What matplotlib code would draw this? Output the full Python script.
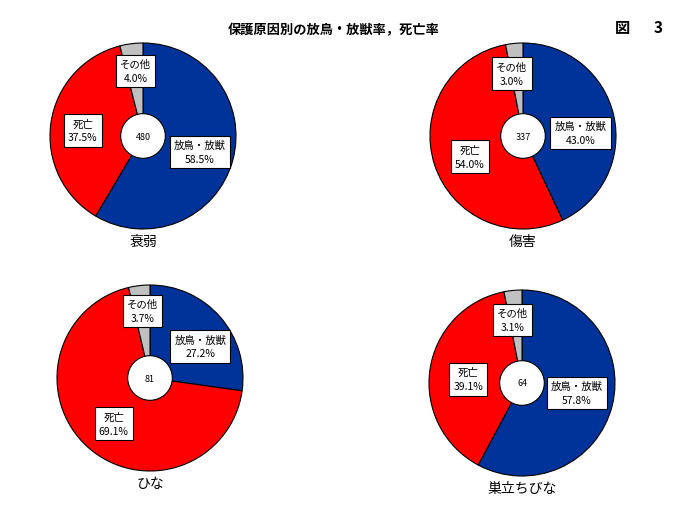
import matplotlib
matplotlib.use("Agg")
import matplotlib.pyplot as plt
from matplotlib.patches import Circle

plt.rcParams['font.family'] = ['Noto Sans CJK JP', 'DejaVu Sans']

# data
causes = ['衰弱', '傷害', 'ひな', '巣立ちびな']
totals = [480, 337, 81, 64]
names = ['放鳥・放獣', '死亡', 'その他']
release = [58.5, 43.0, 27.2, 57.8]
death = [37.5, 54.0, 69.1, 39.1]
other = [4.0, 3.0, 3.7, 3.1]
colors = ['#003399', '#ff0000', '#c0c0c0']

# layout: pie centers (px) and label offsets in pie-radius units
centers = [(143, 137), (523, 137), (150, 379), (522, 384)]
label_pos = [
    [(0.61, -0.17), (-0.65, 0.06), (-0.08, 0.70)],
    [(0.62, 0.03), (-0.57, -0.22), (-0.12, 0.67)],
    [(0.54, 0.34), (-0.39, -0.49), (-0.08, 0.72)],
    [(0.59, -0.11), (-0.58, 0.04), (-0.10, 0.68)],
]
W, H, R = 700, 510, 93
lim = 1.2

fig = plt.figure(figsize=(7, 5.1), dpi=100)
fig.text(334 / W, 1 - 30 / H, '保護原因別の放鳥・放獣率，死亡率', ha='center', va='center',
         fontsize=9.5, fontweight='bold')
fig.text(622 / W, 1 - 28 / H, '図', ha='center', va='center', fontsize=11, fontweight='bold')
fig.text(658 / W, 1 - 28 / H, '3', ha='center', va='center', fontsize=11, fontweight='bold')

for i, cause in enumerate(causes):
    cx, cy = centers[i]
    size = 2 * lim * R
    ax = fig.add_axes([(cx - size / 2) / W, (H - cy - size / 2) / H, size / W, size / H])
    vals = [release[i], death[i], other[i]]
    ax.pie(vals, colors=colors, startangle=90, counterclock=False, radius=1,
           wedgeprops=dict(edgecolor='black', linewidth=0.8))
    ax.add_patch(Circle((0, 0), 0.24, facecolor='white', edgecolor='black', lw=0.8, zorder=5))
    ax.text(0, 0, str(totals[i]), ha='center', va='center', fontsize=6.5, zorder=6)
    for j, name in enumerate(names):
        x, y = label_pos[i][j]
        ax.text(x, y, f'{name}\n{vals[j]:.1f}%', ha='center', va='center', fontsize=7.5,
                linespacing=1.5, zorder=7,
                bbox=dict(boxstyle='square,pad=0.4', fc='white', ec='black', lw=0.8))
    ax.text(0, -1.13, cause, ha='center', va='center', fontsize=10)
    ax.set_xlim(-lim, lim)
    ax.set_ylim(-lim, lim)
    ax.set_aspect('equal')
    ax.axis('off')

fig.savefig('out.png', dpi=100)
